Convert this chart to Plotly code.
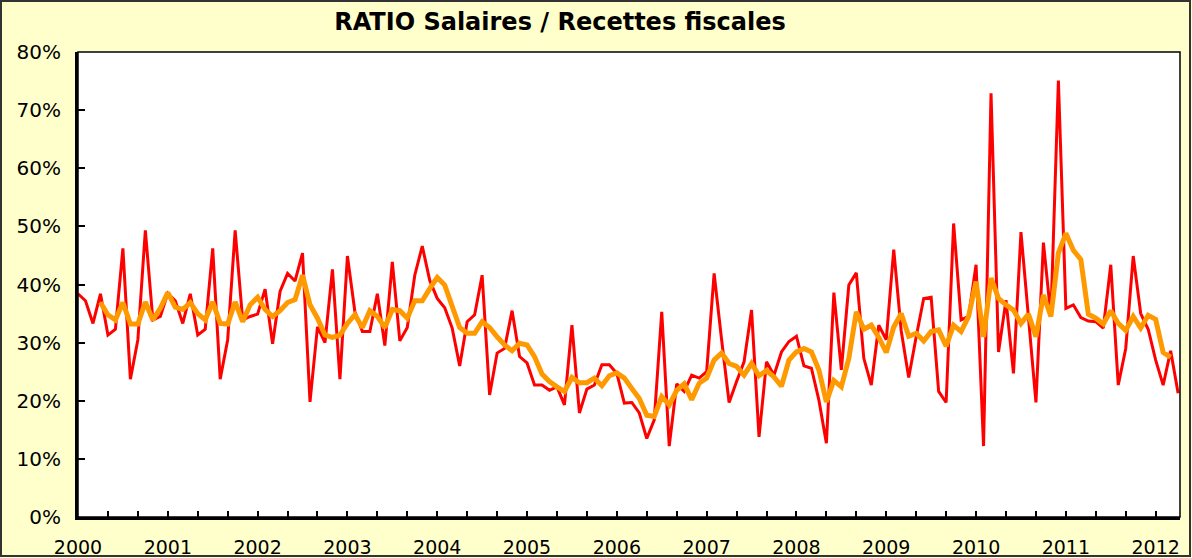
import pandas as pd
import plotly.graph_objects as go

# Monthly ratio of wages to tax receipts, Jan 2000 onward (percent)
start_month = "2000-01"
ratio_monthly = [
    38.4, 37.2, 33.3, 38.4, 31.3, 32.3, 46.2, 23.7, 30.5, 49.3, 33.9, 34.5,
    38.5, 37.2, 33.3, 38.4, 31.3, 32.3, 46.2, 23.7, 30.5, 49.3, 33.9, 34.5,
    34.9, 39.2, 29.8, 38.8, 41.9, 40.6, 45.4, 19.8, 32.7, 30.0, 42.6, 23.7,
    44.9, 35.3, 31.9, 31.9, 38.4, 29.5, 43.9, 30.3, 32.6, 41.6, 46.6, 40.7,
    37.6, 36.0, 32.5, 26.0, 33.6, 34.8, 41.6, 21.0, 28.2, 29.0, 35.5, 27.6,
    26.5, 22.7, 22.7, 21.8, 22.4, 19.3, 33.0, 17.9, 22.0, 22.7, 26.2, 26.2,
    24.7, 19.6, 19.7, 17.9, 13.5, 16.7, 35.3, 12.2, 22.9, 21.6, 24.4, 23.9,
    25.0, 41.9, 30.5, 19.7, 23.3, 26.7, 35.6, 13.8, 26.7, 24.4, 28.4, 30.2,
    31.1, 26.0, 25.6, 20.1, 12.7, 38.6, 25.3, 39.9, 42.0, 27.3, 22.7, 33.0,
    30.5, 46.0, 32.0, 24.0, 31.0, 37.6, 37.8, 21.6, 19.7, 50.5, 33.9, 34.5,
    43.4, 12.2, 72.9, 28.4, 37.3, 24.7, 49.0, 34.0, 19.7, 47.2, 34.5, 75.1,
    35.9, 36.5, 34.3, 33.7, 33.6, 32.5, 43.4, 22.7, 29.0, 44.9, 35.0, 32.3,
    27.0, 22.7, 28.6, 21.3,
]

# Smoothed ratio, first value in April 2000 (percent)
smooth_offset = 3
ratio_smoothed = [
    36.9, 34.8, 33.9, 36.9, 33.2, 33.2, 37.0, 33.9, 35.9,
    38.6, 36.1, 35.7, 36.9, 35.0, 33.9, 37.0, 33.3, 33.2, 37.0, 33.6, 36.5,
    37.8, 35.7, 34.5, 35.5, 36.9, 37.4, 41.6, 36.5, 34.2, 31.3, 30.9, 31.3,
    33.3, 34.8, 32.6, 35.5, 34.5, 32.6, 35.7, 35.5, 34.2, 37.2, 37.2, 39.3,
    41.2, 39.9, 36.5, 32.6, 31.6, 31.6, 33.6, 32.6, 31.0, 29.6, 28.6, 29.9,
    29.6, 27.6, 24.6, 23.3, 22.4, 21.6, 24.0, 23.1, 23.1, 23.9, 22.6, 24.3,
    24.8, 23.9, 22.1, 20.4, 17.5, 17.3, 20.7, 19.3, 21.8, 22.9, 20.2, 23.0,
    23.9, 27.0, 28.2, 26.4, 25.9, 24.4, 26.4, 24.3, 25.2, 24.1, 22.5, 27.0,
    28.4, 29.0, 28.4, 25.3, 19.8, 23.5, 22.4, 27.3, 35.3, 32.3, 33.0, 30.9,
    28.3, 32.7, 35.0, 31.1, 31.6, 30.3, 31.9, 32.2, 29.4, 33.0, 31.9, 34.5,
    40.5, 31.0, 41.1, 37.6, 36.5, 35.6, 33.3, 34.9, 31.0, 38.2, 34.5, 45.4,
    48.8, 45.9, 44.3, 34.9, 34.2, 33.2, 35.5, 33.3, 32.1, 34.5, 32.5, 34.7,
    34.0, 28.3, 27.5,
]

year_labels = [str(y) for y in range(2000, 2013)]

months = pd.period_range(start=start_month, periods=len(ratio_monthly), freq="M")
x_all = [p.year + (p.month - 1) / 12 for p in months]
x_smooth = x_all[smooth_offset:smooth_offset + len(ratio_smoothed)]

font_family = "DejaVu Sans"

fig = go.Figure()
fig.add_trace(go.Scatter(
    x=x_all, y=[v / 100 for v in ratio_monthly],
    mode="lines", name="Ratio mensuel",
    line=dict(color="#FF0000", width=3),
))
fig.add_trace(go.Scatter(
    x=x_smooth, y=[v / 100 for v in ratio_smoothed],
    mode="lines", name="Moyenne",
    line=dict(color="#FF9900", width=5),
))

# ticks every 4 months, labelled only at each new year
tick_vals, tick_text = [], []
for y in range(2000, 2013):
    for k in range(3):
        tick_vals.append(y + k * 4 / 12)
        tick_text.append(str(y) if k == 0 else "")

x_end = x_all[-1] + 0.25 / 12

fig.update_xaxes(
    range=[2000, x_end],
    tickmode="array", tickvals=tick_vals, ticktext=tick_text,
    ticks="inside", ticklen=6, tickwidth=2, tickcolor="black",
    showline=True, linewidth=3, linecolor="black",
    showgrid=False, zeroline=False, automargin=False,
    tickfont=dict(family=font_family, size=19, color="black"),
    ticklabelstandoff=11,
)
fig.update_yaxes(
    range=[0, 0.8], dtick=0.1, tickformat=".0%",
    ticks="inside", ticklen=7, tickwidth=2, tickcolor="black",
    showline=True, linewidth=3, linecolor="black",
    showgrid=False, zeroline=False, automargin=False,
    tickfont=dict(family=font_family, size=20, color="black"),
    ticklabelstandoff=10,
)

W, H = 1192, 558
ml, mr, mt, mb = 78, 12, 52, 41
pw, ph = W - ml - mr, H - mt - mb

def px_to_paper_x(px):
    return (px - ml) / pw

def px_to_paper_y(py):
    return (H - mb - py) / ph

shapes = [
    # plot-area frame
    dict(type="rect", xref="paper", yref="paper", x0=0, y0=0, x1=1, y1=1,
         line=dict(color="black", width=1.5), layer="above"),
    # outer chart frame
    dict(type="rect", xref="paper", yref="paper",
         x0=px_to_paper_x(1), x1=px_to_paper_x(W - 2),
         y0=px_to_paper_y(H - 2), y1=px_to_paper_y(1),
         line=dict(color="#333333", width=2), layer="above"),
]

fig.update_layout(
    width=W, height=H,
    margin=dict(l=ml, r=mr, t=mt, b=mb),
    paper_bgcolor="#FFFFCC",
    plot_bgcolor="white",
    showlegend=False,
    shapes=shapes,
    title=dict(
        text="<b>RATIO Salaires / Recettes fiscales</b>",
        x=560 / W, xanchor="center",
        y=1 - 22 / H, yanchor="middle",
        font=dict(family=font_family, size=24, color="black"),
    ),
)

fig.write_html("out.html")
